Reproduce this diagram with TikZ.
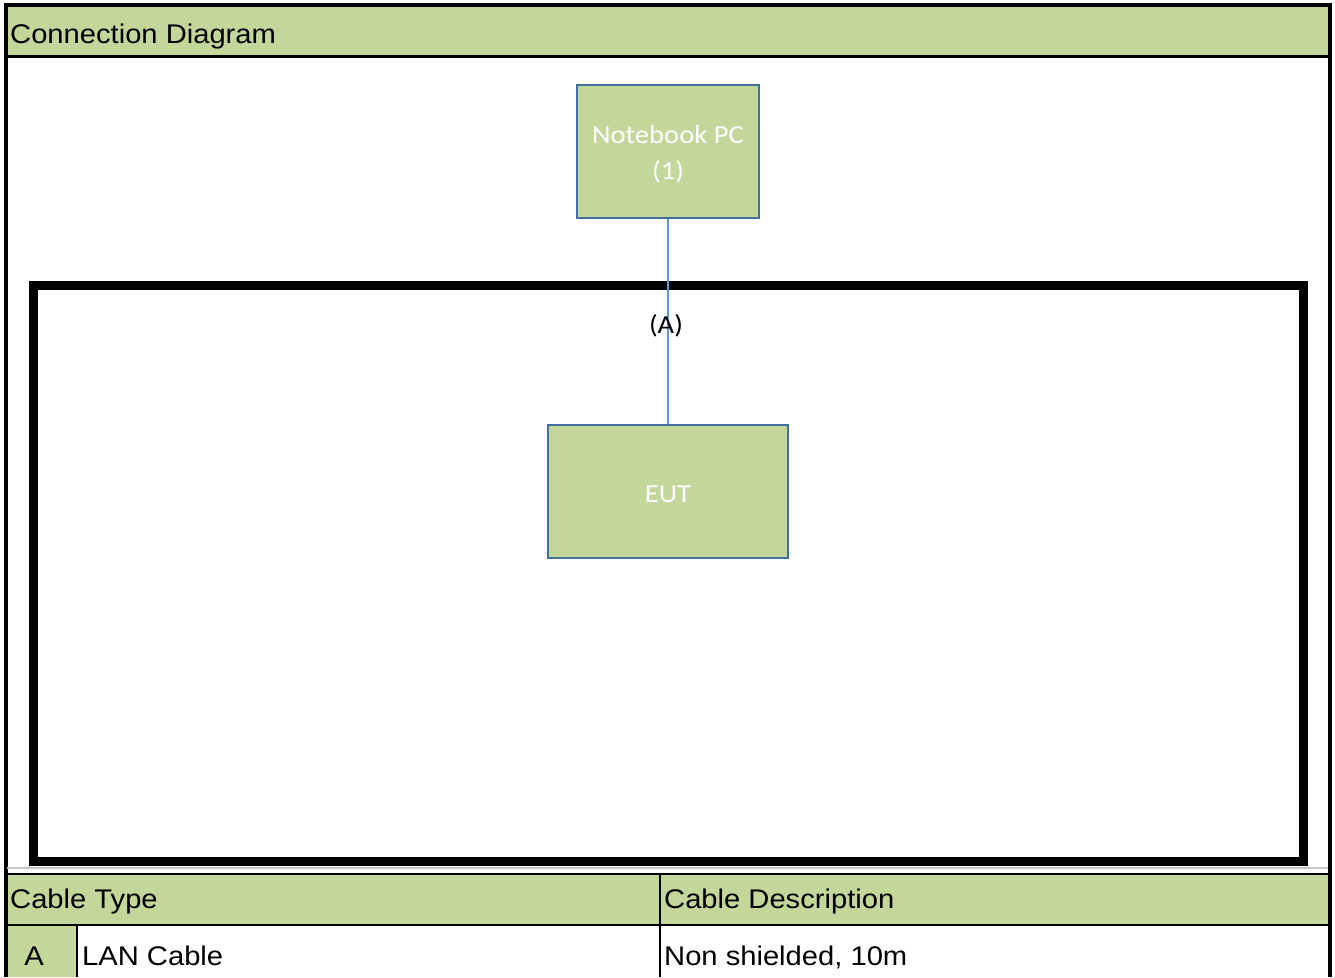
\documentclass[tikz,border=0pt]{standalone}
\usepackage{fontspec}
\newfontfamily\arialx[FakeStretch=1.08]{Liberation Sans}
\newfontfamily\calx[FakeStretch=1.1]{Carlito}
\definecolor{hdrgreen}{HTML}{C4D79B}
\definecolor{boxblue}{HTML}{41719C}
\definecolor{cableblue}{HTML}{5B9BD5}
\tikzset{
  tabtext/.style={font=\arialx\fontsize{27}{31}\selectfont, text=black, inner sep=0pt, anchor=base west},
  devbox/.style={draw=boxblue, line width=1.8pt, fill=hdrgreen, text=white, align=center,
     font=\calx\fontsize{26}{36}\selectfont, inner sep=0pt},
  cable/.style={draw=cableblue, line width=1.2pt},
  framethick/.style={draw=black, line width=9pt},
}
\begin{document}
\begin{tikzpicture}[x=1pt,y=-1pt]
\useasboundingbox (0,0) rectangle (1335,977);
\fill[white] (0,0) rectangle (1335,977);
% header band
\fill[hdrgreen] (7,7) rectangle (1328,55);
\node[tabtext] (title) at (10,43) {Connection Diagram};
% table fills
\fill[hdrgreen] (7,875) rectangle (1328,924);
\fill[hdrgreen] (7,926) rectangle (77,977);
% outer frame
\draw[line width=4pt] (3.5,5) -- (1332,5);
\draw[line width=4pt] (5.5,3) -- (5.5,977);
\draw[line width=4pt] (1330,3) -- (1330,977);
\draw[line width=3pt] (5,56.5) -- (1330,56.5);
% thick test frame
\draw[framethick] (33,285) rectangle (1303.5,861.5);
% grey separator
\draw[gray!45, line width=1.2pt] (7,868) -- (1328,868);
% table lines
\draw[line width=2pt] (5,874) -- (1330,874);
\draw[line width=2pt] (5,925) -- (1330,925);
\draw[line width=2pt] (660,873) -- (660,977);
\draw[line width=2pt] (77,924) -- (77,977);
% table text
\node[tabtext] (ctype) at (10,908) {Cable Type};
\node[tabtext] (cdesc) at (664,908) {Cable Description};
\node[tabtext, anchor=base] (ca) at (34,965) {A};
\node[tabtext] (cname) at (82,965) {LAN Cable};
\node[tabtext] (cval) at (664,965) {Non shielded, 10m};
% devices
\node[devbox, minimum width=182pt, minimum height=133pt] (pc) at (668,151.5) {\rule{0pt}{24pt}Notebook PC\\(1)};
\node[devbox, minimum width=240pt, minimum height=133pt, text height=21pt, text depth=0pt] (eut) at (668,491.5) {EUT};
\draw[cable] (pc.south) -- (eut.north);
\node[font=\calx\fontsize{26}{30}\selectfont, text=black, inner sep=0pt, anchor=base] (lblA) at (666,333) {(A)};
\end{tikzpicture}
\end{document}
